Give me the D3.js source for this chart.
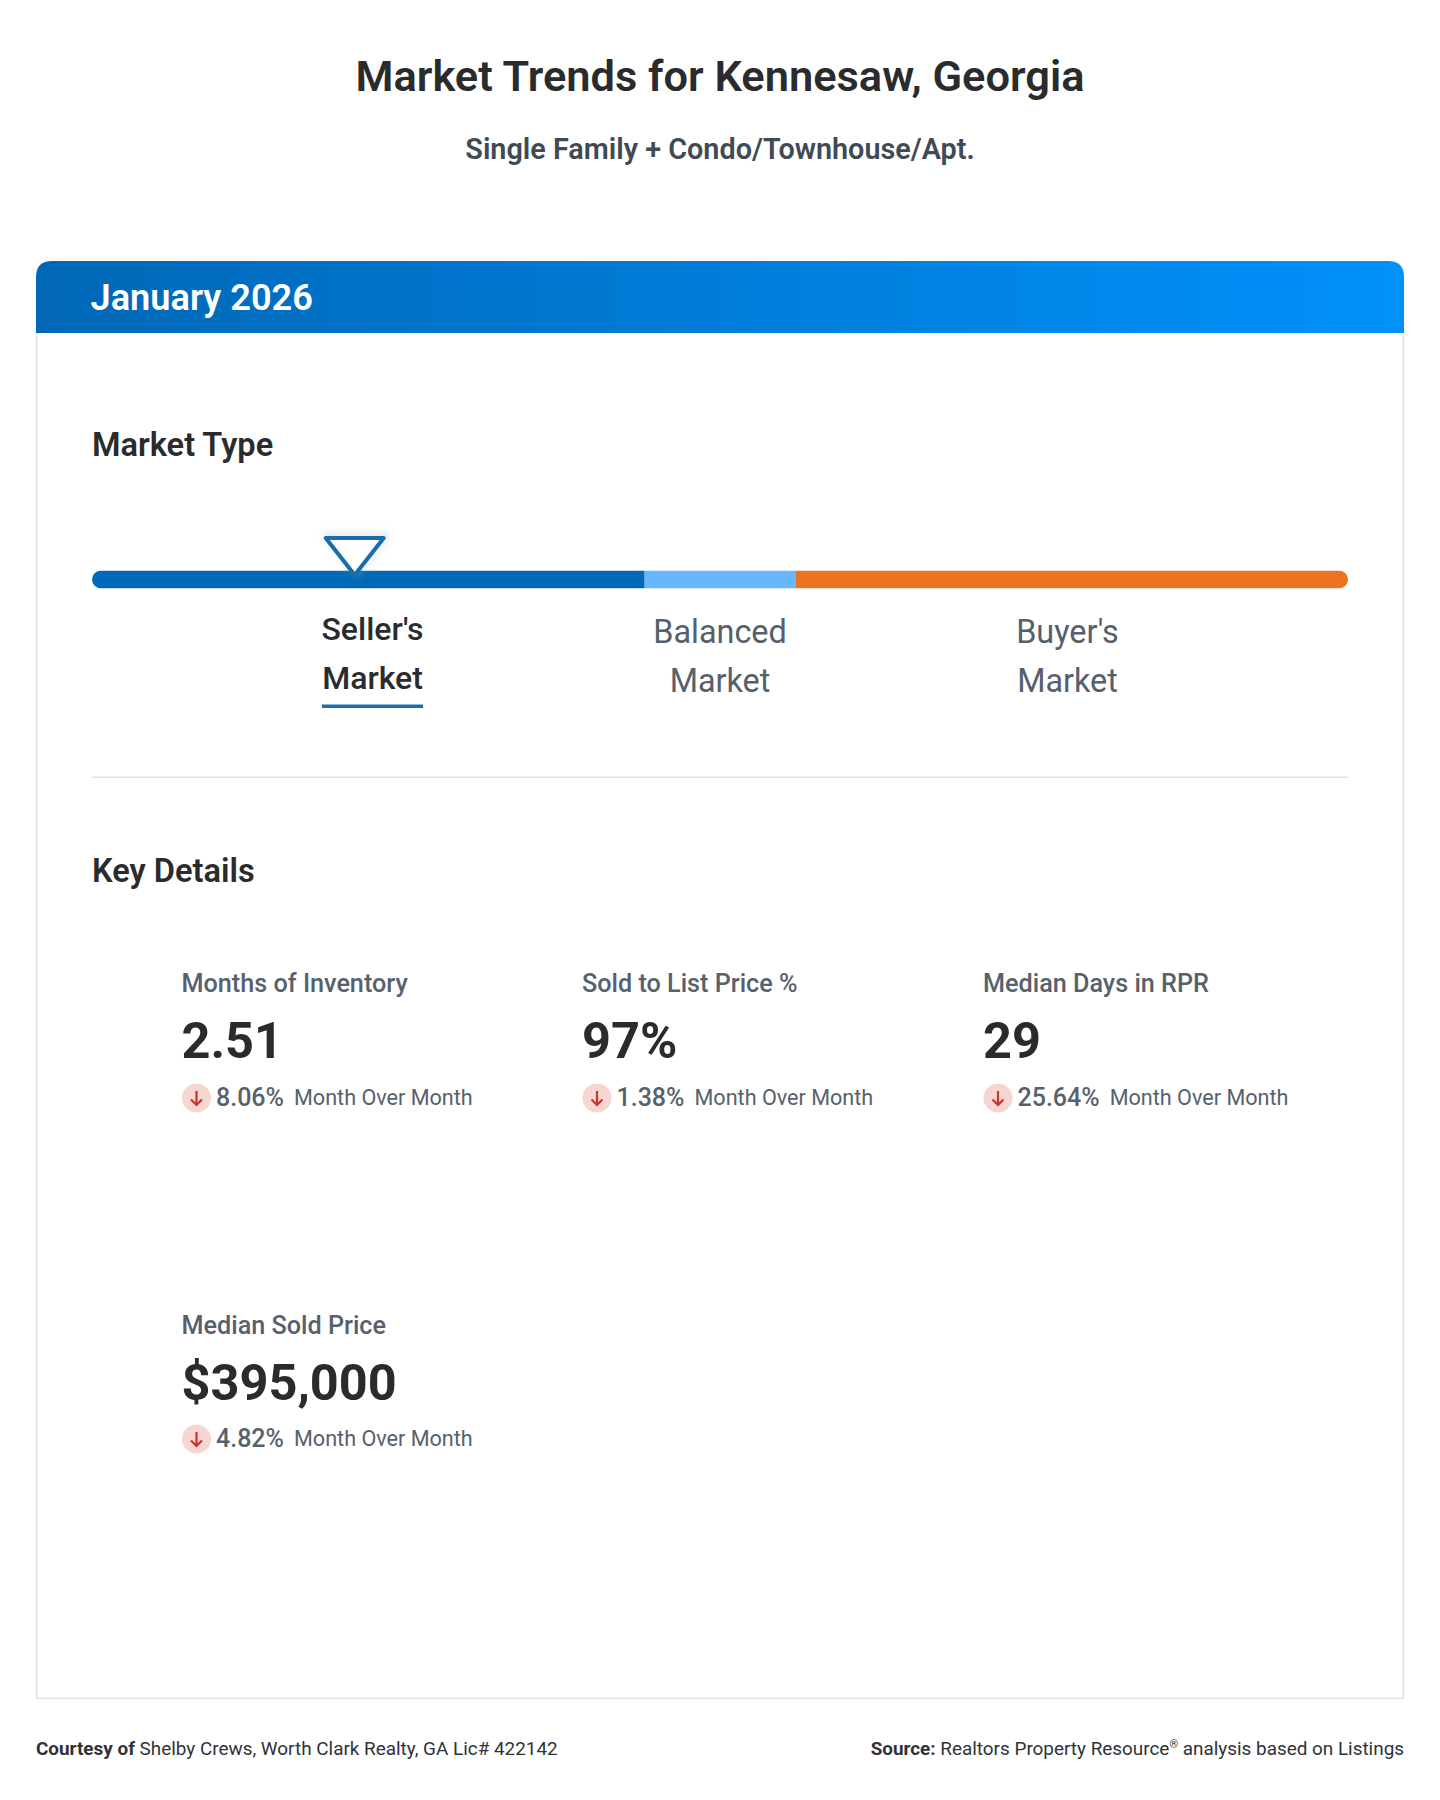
<!DOCTYPE html>
<html><head><meta charset="utf-8">
<script src="https://cdn.jsdelivr.net/npm/d3@7"></script>
<style>
html,body{margin:0;padding:0;background:#fff}
svg{display:block}
text{font-family:Roboto,sans-serif}
</style></head><body>
<svg id="c" width="1440" height="1800" viewBox="0 0 1440 1800"></svg>
<script>
const titleText = "Market Trends for Kennesaw, Georgia";
const subtitleText = "Single Family + Condo/Townhouse/Apt.";
const periodText = "January 2026";
const sectionTitles = ["Market Type", "Key Details"];
const segmentNames = ["Seller's Market", "Balanced Market", "Buyer's Market"];
const segmentStops = [0, 5.28, 6.72, 12];
const markerValue = 2.51;
const metricLabels = ["Months of Inventory", "Sold to List Price %", "Median Days in RPR", "Median Sold Price"];
const metricValues = ["2.51", "97%", "29", "$395,000"];
const metricChanges = ["8.06%", "1.38%", "25.64%", "4.82%"];
const changeNote = "Month Over Month";

const svg = d3.select("#c");
const defs = svg.append("defs");
const grad = defs.append("linearGradient").attr("id","hdr").attr("x1","0").attr("x2","1").attr("y1","0").attr("y2","0");
grad.append("stop").attr("offset","0").attr("stop-color","#0068b6");
grad.append("stop").attr("offset","1").attr("stop-color","#0091fb");
const blur = defs.append("filter").attr("id","glow").attr("x","-30%").attr("y","-30%").attr("width","160%").attr("height","160%");
blur.append("feGaussianBlur").attr("stdDeviation",4);

const T = (x,y,s,size,weight,fill,anchor="start") => svg.append("text")
  .attr("x",x).attr("y",y).attr("font-size",size).attr("font-weight",weight)
  .attr("fill",fill).attr("text-anchor",anchor).text(s);

const ink="#2a2b2c";
T(720,91,titleText,43.4,600,ink,"middle");
T(720,159,subtitleText,28.8,600,"#3f4a54","middle");

const L=36,R=1404,TOP=261,HB=333,BOT=1699;
svg.append("path").attr("d",`M${L+.5},${HB} V${BOT-.5} H${R-.5} V${HB}`).attr("fill","none").attr("stroke","#dbe2e6").attr("stroke-width",1.5);
const r=16;
svg.append("path").attr("d",`M${L},${HB} V${TOP+r} Q${L},${TOP} ${L+r},${TOP} H${R-r} Q${R},${TOP} ${R},${TOP+r} V${HB} Z`).attr("fill","url(#hdr)");
T(90.5,310,periodText,36.2,600,"#fff");

T(92,456,sectionTitles[0],32.6,600,ink);
T(92,882,sectionTitles[1],32.6,600,ink);

// market bar
const x = d3.scaleLinear().domain([0,12]).range([92,1348]);
const barY=570.5, barH=18;
const segColors=["#0069b8","#66b8fb","#ec7420"];
const clip = defs.append("clipPath").attr("id","barclip");
clip.append("rect").attr("x",x(0)).attr("y",barY).attr("width",x(12)-x(0)).attr("height",barH).attr("rx",9);
svg.append("g").attr("clip-path","url(#barclip)").selectAll("rect").data(segColors).join("rect")
  .attr("x",(d,i)=>x(segmentStops[i])).attr("y",barY)
  .attr("width",(d,i)=>x(segmentStops[i+1])-x(segmentStops[i])).attr("height",barH).attr("fill",d=>d);

// marker
const mx=x(markerValue);
const tri=`M${mx-29},538 H${mx+29} L${mx},575 Z`;
svg.append("path").attr("d",tri).attr("fill","none").attr("stroke","#9fb7c8").attr("stroke-width",5).attr("opacity",.45).attr("filter","url(#glow)").attr("transform","translate(2,-2)");
svg.append("path").attr("d",tri).attr("fill","#fff").attr("stroke","#1a6ea8").attr("stroke-width",4).attr("stroke-linejoin","round");

// segment labels
const labelCx=[372.5,720,1067.5];
segmentNames.forEach((n,i)=>{
  const [a,b]=n.split(" ");
  const active=i===0, fill=active?ink:"#55606c", w=active?500:400, dy=active?0:3;
  T(labelCx[i],640+dy,a,active?32:32.4,w,fill,"middle");
  T(labelCx[i],689+dy,b,active?32:32.4,w,fill,"middle");
});
svg.append("rect").attr("x",322).attr("y",704.5).attr("width",101).attr("height",3.5).attr("fill","#1a6ea8");

svg.append("rect").attr("x",92).attr("y",776.5).attr("width",1256).attr("height",1.5).attr("fill","#dde4e7");

// metrics
const colX=[182,582.5,983.5,182], rowY=[0,0,0,341];
metricLabels.forEach((lab,i)=>{
  const X=colX[i], dy=rowY[i], up=i===3?1:0;
  T(X-0.5,991.5+dy+up,lab,25.2,500,"#56616d");
  T(X-0.5,1058+dy+up,metricValues[i],50.5,700,ink);
  const cx=X+14.5, cy=1098+dy;
  svg.append("circle").attr("cx",cx).attr("cy",cy).attr("r",14.5).attr("fill","#f7d6d2");
  svg.append("path").attr("d",`M${cx},${cy-7} V${cy+7} M${cx-5.5},${cy+1.5} L${cx},${cy+7} L${cx+5.5},${cy+1.5}`)
    .attr("fill","none").attr("stroke","#c6342c").attr("stroke-width",2.2);
  const ct=T(X+34,1105.5+dy,metricChanges[i],25,500,"#56616d");
  T(ct.node().getComputedTextLength()+X+34+10,1105+dy,changeNote,21.6,400,"#56616d");
});

// footer
const fy=1754.5;
const f1=T(36,fy,"",18.9,400,"#2f3338");
f1.append("tspan").attr("font-weight",700).text("Courtesy of");
f1.append("tspan").text(" Shelby Crews, Worth Clark Realty, GA Lic# 422142");
const f2=T(1404,fy,"",18.9,400,"#2f3338","end");
f2.append("tspan").attr("font-weight",700).text("Source:");
f2.append("tspan").text(" Realtors Property Resource");
f2.append("tspan").attr("font-size",11).attr("dy",-7).text("®");
f2.append("tspan").attr("dy",7).text(" analysis based on Listings");
</script></body></html>
